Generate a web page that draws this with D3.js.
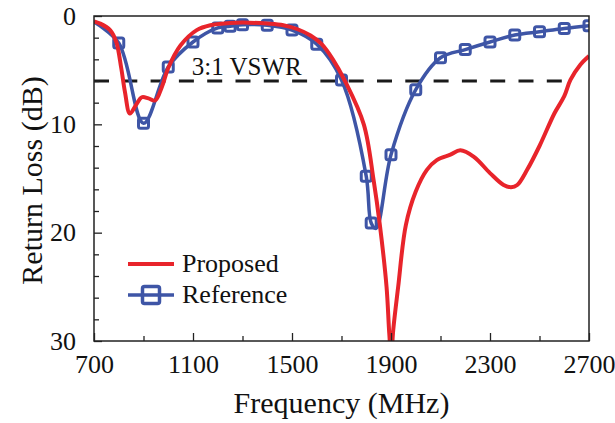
<!DOCTYPE html>
<html>
<head>
<meta charset="utf-8">
<script src="https://cdn.jsdelivr.net/npm/d3@7"></script>
<style>
  html, body { margin: 0; padding: 0; background: #fff; }
  svg { display: block; }
  svg text { font-family: 'Liberation Serif', 'Times New Roman', Times, 'DejaVu Serif', serif !important; fill: #111; }
</style>
</head>
<body>
<svg id="chart" width="615" height="423"></svg>
<script>
// ---- data ----
const proposedFreq = [700, 725, 765, 790, 810, 825, 845, 870, 893, 920, 947, 975, 1000, 1050, 1115, 1170, 1250, 1300, 1400, 1465, 1520, 1575, 1620, 1665, 1714, 1790, 1830, 1855, 1882, 1893, 1901, 1909, 1929, 1960, 2000, 2045, 2085, 2140, 2180, 2235, 2300, 2355, 2385, 2410, 2450, 2500, 2560, 2600, 2625, 2665, 2700];
const proposedLoss = [0.5, 0.7, 1.3, 2.4, 4.8, 7.0, 9.0, 8.2, 7.5, 7.6, 7.8, 6.5, 4.8, 2.7, 1.3, 0.85, 0.65, 0.6, 0.7, 0.85, 1.2, 1.8, 2.6, 4.0, 6.0, 10.0, 15.2, 19.3, 25.0, 29.3, 31.5, 29.0, 25.0, 19.3, 16.2, 14.2, 13.3, 12.8, 12.4, 13.0, 14.5, 15.6, 15.8, 15.6, 14.2, 12.0, 9.0, 7.4, 5.9, 4.5, 3.7];

const referenceFreq = [700, 800, 900, 1000, 1100, 1200, 1250, 1300, 1400, 1500, 1600, 1700, 1800, 1820, 1840, 1900, 2000, 2100, 2200, 2300, 2400, 2500, 2600, 2700];
const referenceLoss = [0.55, 2.5, 9.9, 4.7, 2.4, 1.1, 0.95, 0.8, 0.85, 1.3, 2.6, 5.9, 14.8, 19.1, 19.6, 12.8, 6.8, 3.85, 3.1, 2.4, 1.75, 1.45, 1.15, 0.9];
const referenceMarkerFreq = [800, 900, 1000, 1100, 1200, 1250, 1300, 1400, 1500, 1600, 1700, 1800, 1820, 1900, 2000, 2100, 2200, 2300, 2400, 2500, 2600, 2700];

const xMajorTicks = [700, 1100, 1500, 1900, 2300, 2700];
const xMinorTicks = [900, 1300, 1700, 2100, 2500];
const yMajorTicks = [0, 10, 20, 30];
const yMinorTicks = [2, 4, 6, 8, 12, 14, 16, 18, 22, 24, 26, 28];

const vswrLevel = 6;
const vswrSpan = [700, 2620];
const vswrLabel = "3:1 VSWR";
const seriesNames = ["Proposed", "Reference"];
const xTitle = "Frequency (MHz)";
const yTitle = "Return Loss (dB)";

// ---- layout ----
const L = 94, R = 589, T = 16, B = 341;
const red = "#e8242b", blue = "#3e55a6";
const FONT = "'Liberation Serif', 'Times New Roman', Times, 'DejaVu Serif', serif";

const svg = d3.select("#chart");
const x = d3.scaleLinear().domain([700, 2700]).range([L, R]);
const y = d3.scaleLinear().domain([0, 30]).range([T, B]);

svg.append("defs").append("clipPath").attr("id", "clip")
  .append("rect").attr("x", L).attr("y", T).attr("width", R - L).attr("height", B - T);

// dashed VSWR line
svg.append("line")
  .attr("x1", x(vswrSpan[0])).attr("x2", x(vswrSpan[1]))
  .attr("y1", y(vswrLevel)).attr("y2", y(vswrLevel))
  .attr("stroke", "#1a1a1a").attr("stroke-width", 3)
  .attr("stroke-dasharray", "15,13.3");

svg.append("text").attr("x", x(1095)).attr("y", 75)
  .attr("font-family", FONT).attr("font-size", 25).text(vswrLabel);

const g = svg.append("g").attr("clip-path", "url(#clip)");

const line = d3.line()
  .x(d => x(d[0])).y(d => y(d[1]))
  .curve(d3.curveCatmullRom.alpha(0.5));

const refData = referenceFreq.map((f, i) => [f, referenceLoss[i]]);
const propData = proposedFreq.map((f, i) => [f, proposedLoss[i]]);

g.append("path").datum(refData).attr("d", line)
  .attr("fill", "none").attr("stroke", blue).attr("stroke-width", 3.5)
  .attr("stroke-linejoin", "round");

const ms = 10;
g.selectAll("rect.m").data(referenceMarkerFreq.map(f => refData.find(d => d[0] === f)))
  .enter().append("rect").attr("class", "m")
  .attr("x", d => x(d[0]) - ms / 2).attr("y", d => y(d[1]) - ms / 2)
  .attr("width", ms).attr("height", ms).attr("rx", 2)
  .attr("fill", "none").attr("stroke", blue).attr("stroke-width", 3);

g.append("path").datum(propData).attr("d", line)
  .attr("fill", "none").attr("stroke", red).attr("stroke-width", 4)
  .attr("stroke-linejoin", "round");

// axes
const fmt = d3.format("d");
const xMaj = svg.append("g").attr("transform", `translate(0,${B})`)
  .call(d3.axisBottom(x).tickValues(xMajorTicks).tickSize(-8).tickPadding(14).tickFormat(fmt));
const xMin = svg.append("g").attr("transform", `translate(0,${B})`)
  .call(d3.axisBottom(x).tickValues(xMinorTicks).tickSize(-5).tickFormat(""));
const yMaj = svg.append("g").attr("transform", `translate(${L},0)`)
  .call(d3.axisLeft(y).tickValues(yMajorTicks).tickSize(-8).tickPadding(18).tickFormat(fmt));
const yMin = svg.append("g").attr("transform", `translate(${L},0)`)
  .call(d3.axisLeft(y).tickValues(yMinorTicks).tickSize(-5).tickFormat(""));

[xMaj, xMin, yMaj, yMin].forEach(a => {
  a.attr("font-family", FONT);
  a.select(".domain").remove();
  a.selectAll(".tick line").attr("stroke", "#222").attr("stroke-width", 1.3);
  a.selectAll(".tick text").attr("font-size", 26).attr("fill", "#111");
});

svg.append("rect").attr("x", L).attr("y", T).attr("width", R - L).attr("height", B - T)
  .attr("fill", "none").attr("stroke", "#222").attr("stroke-width", 1.5);

// titles
svg.append("text").attr("x", (L + R) / 2).attr("y", 413).attr("text-anchor", "middle")
  .attr("font-family", FONT).attr("font-size", 30).text(xTitle);
svg.append("text").attr("transform", `translate(42,${(T + B) / 2 + 2}) rotate(-90)`)
  .attr("text-anchor", "middle").attr("font-family", FONT).attr("font-size", 30).text(yTitle);

// legend
const lg = svg.append("g").attr("font-family", FONT);
lg.append("line").attr("x1", 128).attr("x2", 174).attr("y1", 264).attr("y2", 264)
  .attr("stroke", red).attr("stroke-width", 4);
lg.append("text").attr("x", 182).attr("y", 272).attr("font-size", 26).text(seriesNames[0]);
lg.append("line").attr("x1", 128).attr("x2", 174).attr("y1", 295).attr("y2", 295)
  .attr("stroke", blue).attr("stroke-width", 3.5);
lg.append("rect").attr("x", 151 - 8.5).attr("y", 295 - 8.5).attr("width", 17).attr("height", 17)
  .attr("rx", 2).attr("fill", "none").attr("stroke", blue).attr("stroke-width", 3.5);
lg.append("text").attr("x", 182).attr("y", 303).attr("font-size", 26).text(seriesNames[1]);
</script>
</body>
</html>
